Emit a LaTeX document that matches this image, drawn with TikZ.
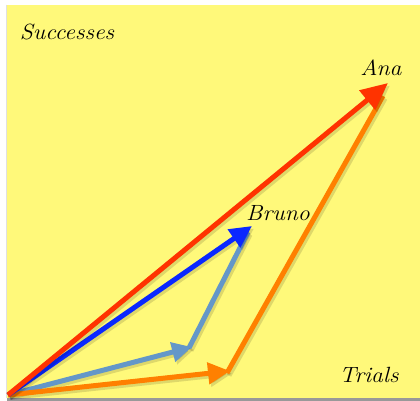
\documentclass[tikz,border=0pt]{standalone}
\usetikzlibrary{arrows.meta}
\usepackage{graphicx}
\definecolor{paper}{HTML}{FFF97A}
\definecolor{cred}{HTML}{FF3300}
\definecolor{cblue}{HTML}{0A28FF}
\definecolor{clight}{HTML}{6497C8}
\definecolor{corange}{HTML}{FF8000}
\tikzset{
  hand/.style={font=\fontsize{22}{26}\selectfont\itshape, inner sep=0pt},
  vec/.style={line width=5pt, -{Triangle[length=22pt,width=21pt]},
    preaction={draw=black, opacity=.13, line width=5pt,
      transform canvas={shift={(2pt,-2.5pt)}}}},
  seg/.style={line width=5pt,
    preaction={draw=black, opacity=.13, line width=5pt,
      transform canvas={shift={(2pt,-2.5pt)}}}}
}
\begin{document}
\begin{tikzpicture}[x=1pt,y=-1pt]
\useasboundingbox (0,0) rectangle (420,401);
\fill[white] (0,0) rectangle (420,401);
\fill[black!40] (7,397) rectangle (420,401);
\fill[paper] (7,5) rectangle (420,397.5);
\draw[black!12, line width=0.8pt] (6.4,5) -- (6.4,397.5);

\coordinate (O) at (8,395);
\coordinate (A) at (388,83);
\coordinate (B) at (252,226);
\coordinate (L1) at (192,347);
\coordinate (L1s) at (189,348);
\coordinate (L2) at (248,232);
\coordinate (R1) at (230,371);
\coordinate (R1s) at (227,373);
\coordinate (R2) at (383,96);

\draw[vec, clight, -{Triangle[length=20pt,width=19pt]}] (O) -- (L1);
\draw[seg, clight] (L1s) -- (L2);
\draw[vec, corange] (O) -- (R1);
\draw[seg, corange] (R1s) -- (R2);
\draw[vec, cblue] (O) -- (B);
\draw[vec, cred, -{Triangle[length=27pt,width=24pt]}] (O) -- (A);

\node[hand] (succ) at (67,32) {\scalebox{1.08}[1]{Successes}};
\node[hand] (ana) at (381,68) {\scalebox{1.08}[1]{Ana}};
\node[hand] (bruno) at (278,213) {\scalebox{1.08}[1]{Bruno}};
\node[hand] (trials) at (369,375) {\scalebox{1.08}[1]{Trials}};
\end{tikzpicture}
\end{document}
